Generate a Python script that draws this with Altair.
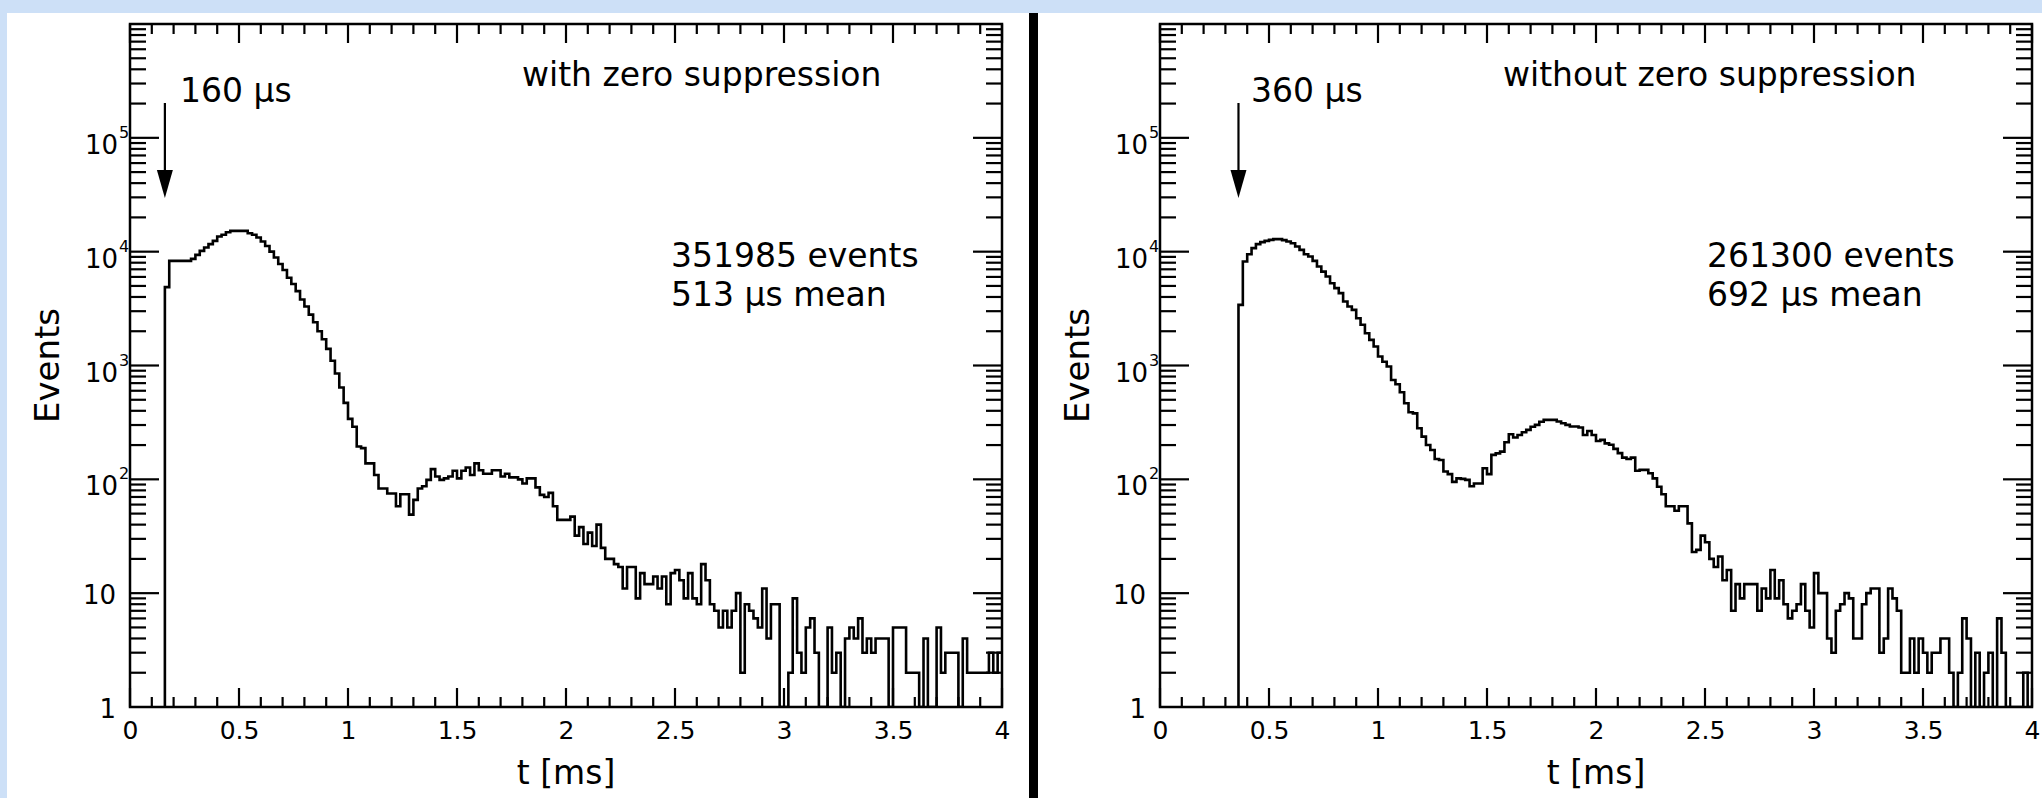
import altair as alt
import pandas as pd

# ---------------- data ----------------
BIN_W = 0.02  # ms

left_start = 0.16
left_counts = [
    4880, 8300, 8300, 8300, 8300, 8300, 8650, 9380, 10160, 10870, 11640, 12440,
    13580, 14060, 14830, 15230, 15230, 15230, 15230, 14520, 14060, 13300, 12300,
    11200, 10000, 8900, 7800, 6900, 5900, 5200, 4500, 3800, 3300, 2800, 2400, 2000,
    1700, 1400, 1100, 850, 640, 470, 340, 290, 194, 188, 138, 138, 109, 83, 83, 75,
    75, 58, 74, 74, 49, 66, 83, 87, 99, 123, 106, 99, 102, 106, 119, 102, 119, 127,
    109, 138, 120, 112, 112, 120, 120,
    106, 112, 104, 104, 100, 92, 102, 102, 85, 73, 70, 76, 58, 44, 44,
    44, 47, 32, 38, 27, 34, 26, 40, 25, 20, 20, 18, 17, 11, 17,
    17, 9, 15, 12, 12, 14, 11, 14, 8, 15, 16, 13, 9, 15, 9,
    8, 18, 13, 8, 7, 5, 7, 5, 7, 10, 2, 8, 7, 6, 5,
    11, 4, 8, 8, 1, 1, 2, 9, 3, 2, 5, 6, 3, 1, 1,
    5, 2, 3, 1, 4, 5, 4, 6, 3, 4, 3, 4, 4, 4, 1,
    5, 5, 5, 2, 2, 2, 1, 4, 1, 1, 5, 2, 3, 3, 3,
    1, 4, 2, 2, 2, 2, 2, 3, 2, 3,
]

right_start = 0.36
right_counts = [
    3410, 8190, 9500, 10740, 11640, 12120, 12440, 12700, 12880, 12880, 12620,
    12270, 11860, 11090, 10370, 9500, 9060, 8300, 7400, 6680, 6050, 5280, 4780,
    4320, 3650, 3300, 3080, 2600, 2280, 1920, 1680, 1470, 1200, 1080, 980, 746,
    684, 582, 466, 388, 380, 281, 237, 200, 181, 151, 148, 117, 111, 95, 102, 101,
    99, 87, 92, 92, 125, 111, 164, 169, 175, 212, 249, 233, 245, 259, 272, 290,
    301, 321, 333, 333,
    333, 322, 311, 301, 291, 291, 285, 245, 266, 245,
    217, 222, 207, 201, 185, 170, 155, 151, 155, 119,
    121, 121, 113, 102, 86, 74, 58, 58, 53, 58,
    58, 41, 23, 24, 32, 28, 20, 17, 21, 13,
    16, 7, 12, 9, 12, 12, 12, 7, 11, 9,
    16, 9, 13, 8, 6, 7, 8, 12, 7, 5,
    15, 10, 10, 4, 3, 7, 8, 10, 9, 4,
    4, 8, 10, 11, 11, 3, 4, 11, 9, 7,
    2, 2, 4, 2, 4, 3, 2, 3, 3, 4,
    4, 2, 1, 2, 6, 4, 1, 3, 1, 2,
    3, 1, 6, 3, 1, 1, 1, 1, 2, 1,
]

x_major = [0, 0.5, 1, 1.5, 2, 2.5, 3, 3.5, 4]
x_minor = [round(i * 0.1, 1) for i in range(1, 40) if i % 5 != 0]
y_major = [10, 100, 1000, 10000, 100000]
y_minor = [m * 10 ** d for d in range(6) for m in range(2, 10)]
y_sup_vals = [100, 1000, 10000, 100000]
y_sup_text = ["2", "3", "4", "5"]
y_plain_vals = [1, 10]
y_plain_text = ["1", "10"]

titles = ["with zero suppression", "without zero suppression"]
arrow_labels = ["160 \u00b5s", "360 \u00b5s"]
event_labels = ["351985 events", "261300 events"]
mean_labels = ["513 \u00b5s mean", "692 \u00b5s mean"]

# ---------------- layout constants ----------------
W, H = 872, 683
FONT = "DejaVu Sans"
BLUE = "#cde0f7"

xs = alt.Scale(domain=[0, 4], nice=False, zero=False)
ys = alt.Scale(type="log", domain=[1, 1e6], nice=False)


def hist_frame(counts, start):
    rows = [{"t": start, "v": 1, "o": 0}]
    for i, c in enumerate(counts):
        rows.append({"t": round(start + i * BIN_W, 4), "v": c, "o": i + 1})
    rows.append({"t": round(start + len(counts) * BIN_W, 4), "v": counts[-1], "o": len(counts) + 1})
    return pd.DataFrame(rows)


def one(txt):
    return pd.DataFrame({"s": [txt]})


def text_layer(txt, x, y, size=33, align="left", angle=0):
    return alt.Chart(one(txt)).mark_text(
        align=align, baseline="alphabetic", font=FONT, fontSize=size,
        color="black", angle=angle
    ).encode(x=alt.value(x), y=alt.value(y), text="s:N")


def panel(idx, counts, start, bg_x0, bg_x1, title_x, arrow_text_x, info_x, divider):
    layers = []
    layers.append(
        alt.Chart(one("bg")).mark_rect(color="white").encode(
            x=alt.value(bg_x0), x2=alt.value(bg_x1), y=alt.value(-11), y2=alt.value(779)
        )
    )
    df = hist_frame(counts, start)
    layers.append(
        alt.Chart(df).mark_line(interpolate="step-after", color="black", strokeWidth=2.6, clip=True).encode(
            x=alt.X("t:Q", scale=xs, title=None,
                    axis=alt.Axis(values=x_major, format="~g", zindex=2)),
            y=alt.Y("v:Q", scale=ys, axis=None),
            order="o:Q",
        )
    )
    xmaj = pd.DataFrame({"t": x_major})
    xmin = pd.DataFrame({"t": x_minor})
    for d, ln in ((xmaj, 19), (xmin, 10)):
        layers.append(alt.Chart(d).mark_rule(color="black", strokeWidth=2.2).encode(
            x=alt.X("t:Q", scale=xs, title=None), y=alt.value(H), y2=alt.value(H - ln)))
        layers.append(alt.Chart(d).mark_rule(color="black", strokeWidth=2.2).encode(
            x=alt.X("t:Q", scale=xs, title=None), y=alt.value(0), y2=alt.value(ln)))
    ymaj = pd.DataFrame({"v": y_major})
    ymin = pd.DataFrame({"v": y_minor})
    for d, ln in ((ymaj, 29), (ymin, 16)):
        layers.append(alt.Chart(d).mark_rule(color="black", strokeWidth=2.2).encode(
            y=alt.Y("v:Q", scale=ys, axis=None), x=alt.value(0), x2=alt.value(ln)))
        layers.append(alt.Chart(d).mark_rule(color="black", strokeWidth=2.2).encode(
            y=alt.Y("v:Q", scale=ys, axis=None), x=alt.value(W), x2=alt.value(W - ln)))
    # frame
    layers.append(
        alt.Chart(one("f")).mark_rect(fillOpacity=0, stroke="black", strokeWidth=2.5).encode(
            x=alt.value(0), x2=alt.value(W), y=alt.value(0), y2=alt.value(H)
        )
    )
    # y tick labels
    sup_df = pd.DataFrame({"v": y_sup_vals, "b": ["10"] * len(y_sup_vals), "s": y_sup_text})
    layers.append(alt.Chart(sup_df).mark_text(
        align="right", baseline="alphabetic", dy=16, font=FONT, fontSize=26, color="black"
    ).encode(y=alt.Y("v:Q", scale=ys, axis=None), x=alt.value(-12), text="b:N"))
    layers.append(alt.Chart(sup_df).mark_text(
        align="left", baseline="alphabetic", dy=0, font=FONT, fontSize=16, color="black"
    ).encode(y=alt.Y("v:Q", scale=ys, axis=None), x=alt.value(-11), text="s:N"))
    plain_df = pd.DataFrame({"v": y_plain_vals, "b": y_plain_text})
    layers.append(alt.Chart(plain_df).mark_text(
        align="right", baseline="alphabetic", dy=11, font=FONT, fontSize=26, color="black"
    ).encode(y=alt.Y("v:Q", scale=ys, axis=None), x=alt.value(-14), text="b:N"))
    # arrow
    ar = pd.DataFrame({"t": [start]})
    layers.append(alt.Chart(ar).mark_rule(color="black", strokeWidth=2.2).encode(
        x=alt.X("t:Q", scale=xs, title=None), y=alt.value(79), y2=alt.value(150)))
    layers.append(alt.Chart(ar).mark_point(
        shape="M -0.57 -1 L 0.57 -1 L 0 1 Z", filled=True, color="black", opacity=1,
        size=784, strokeWidth=0
    ).encode(x=alt.X("t:Q", scale=xs, title=None), y=alt.value(160)))
    # texts
    layers.append(text_layer(titles[idx], title_x, 62))
    layers.append(text_layer(arrow_labels[idx], arrow_text_x, 78))
    layers.append(text_layer(event_labels[idx], info_x, 243))
    layers.append(text_layer(mean_labels[idx], info_x, 282))
    layers.append(text_layer("t [ms]", W / 2, 760, size=33, align="center"))
    layers.append(text_layer("Events", -71, H / 2, size=34, align="center", angle=270))
    if divider:
        layers.append(alt.Chart(one("d")).mark_rule(color="black", strokeWidth=9).encode(
            x=alt.value(903.5), y=alt.value(-11), y2=alt.value(779)))
    return alt.layer(*layers).properties(width=W, height=H)


left = panel(0, left_counts, left_start, -123, 950, 392, 50, 541, True)
right = panel(1, right_counts, right_start, -80, 882, 343, 91, 547, False)

chart = alt.hconcat(left, right, spacing=158, bounds="flush").properties(
    padding={"left": 7, "top": 8, "right": 0, "bottom": 0},
    background=BLUE,
).configure_view(strokeWidth=0).configure_axisX(
    labelFont=FONT, labelFontSize=25, labelColor="black", ticks=False,
    domain=False, grid=False, labelPadding=11, labelOverlap=False,
    labelFlush=False, labelBound=False, zindex=2,
)

chart.save("out.html", embed_options={"renderer": "svg", "actions": False})
